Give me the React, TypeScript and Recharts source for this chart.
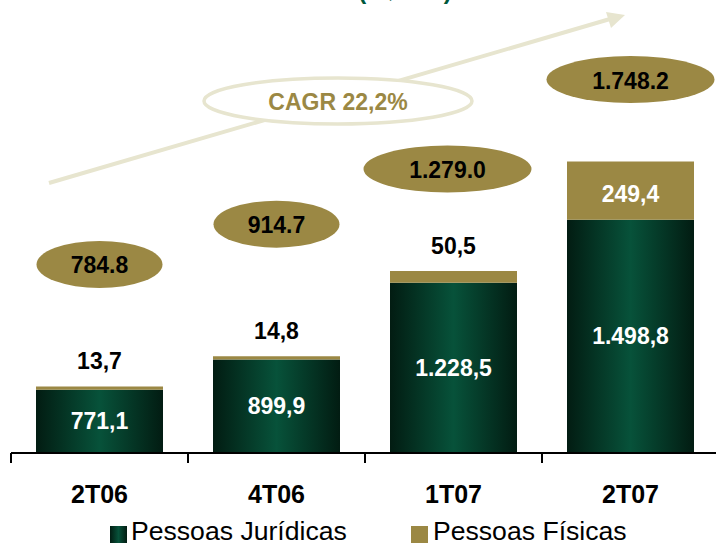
import React from 'react';
import { BarChart, Bar, XAxis, YAxis, LabelList } from 'recharts';

const categories = ['2T06', '4T06', '1T07', '2T07'];
const pessoasJuridicas = [771.1, 899.9, 1228.5, 1498.8];
const pessoasFisicas = [13.7, 14.8, 50.5, 249.4];
const cagrText = 'CAGR 22,2%';

const W = 716;
const H = 544;
const MARGIN = { top: 56, right: -3, bottom: 31, left: 11 };
const XAXIS_H = 60;
const PLOT_BOTTOM = H - MARGIN.bottom - XAXIS_H;
const BAND_HALF = (W - MARGIN.left - MARGIN.right) / categories.length / 2;

const FONT = '"Liberation Sans", Arial, sans-serif';
const OLIVE = '#9b8844';
const BEIGE = '#e7e5cf';

// where the total ovals sit above each stack (hand placed in the original)
const TOTAL_LIFT = [122, 132, 102, 82];
const TOTAL_SHIFT = [0, 0, -6, 0];

const table = categories.map((cat, i) => ({
  cat,
  pj: pessoasJuridicas[i],
  pf: pessoasFisicas[i],
  total: Math.round((pessoasJuridicas[i] + pessoasFisicas[i]) * 10) / 10,
}));

function groupThousands(intPart: string, sep: string) {
  return intPart.replace(/\B(?=(\d{3})+(?!\d))/g, sep);
}

// 1.228,5
function fmtBR(v: number) {
  const [a, b] = v.toFixed(1).split('.');
  return groupThousands(a, '.') + ',' + b;
}

// 1.748.2 (as written in the original ovals)
function fmtTotal(v: number) {
  const [a, b] = v.toFixed(1).split('.');
  return groupThousands(a, '.') + '.' + b;
}

const PjLabel = (props: any) => {
  const { x, y, width, value } = props;
  const cy = (y + PLOT_BOTTOM) / 2;
  return (
    <text x={x + width / 2} y={cy} textAnchor="middle" dominantBaseline="central"
      fill="#fff" fontFamily={FONT} fontWeight="bold" fontSize={23}>
      {fmtBR(value)}
    </text>
  );
};

const PfLabel = (props: any) => {
  const { x, y, width, height, value } = props;
  const inside = value > 100;
  return (
    <text x={x + width / 2} y={inside ? y + height / 2 + 3 : y - 25} textAnchor="middle"
      dominantBaseline="central" fill={inside ? '#fff' : '#000'}
      fontFamily={FONT} fontWeight="bold" fontSize={23}>
      {fmtBR(value)}
    </text>
  );
};

const TotalLabel = (props: any) => {
  const { x, y, width, value, index } = props;
  const txt = fmtTotal(value);
  const cx = x + width / 2 + TOTAL_SHIFT[index];
  const cy = y - TOTAL_LIFT[index];
  const rx = txt.length > 5 ? 84 : 63;
  return (
    <g>
      <ellipse cx={cx} cy={cy} rx={rx} ry={23.5} fill={OLIVE} />
      <text x={cx} y={cy + 1} textAnchor="middle" dominantBaseline="central"
        fill="#000" fontFamily={FONT} fontWeight="bold" fontSize={23}>
        {txt}
      </text>
    </g>
  );
};

const CatTick = (props: any) => {
  const { x, y, payload } = props;
  const bx = x - BAND_HALF;
  return (
    <g>
      <line x1={bx} y1={y} x2={bx} y2={y + 10} stroke="#000" strokeWidth={2} />
      <text x={x} y={y + 50} textAnchor="middle" fill="#000"
        fontFamily={FONT} fontWeight="bold" fontSize={25}>
        {payload.value}
      </text>
    </g>
  );
};

export default function App() {
  return (
    <div style={{ position: 'absolute', left: 0, top: 0, width: W, height: H, background: '#fff', overflow: 'hidden' }}>
      <svg width={0} height={0} style={{ position: 'absolute' }}>
        <defs>
          <linearGradient id="pjGrad" x1="0" y1="0" x2="1" y2="0">
            <stop offset="0%" stopColor="#021c12" />
            <stop offset="50%" stopColor="#07523a" />
            <stop offset="100%" stopColor="#021c12" />
          </linearGradient>
        </defs>
      </svg>

      <BarChart width={W} height={H} data={table} margin={MARGIN} barSize={127}>
        <XAxis dataKey="cat" height={XAXIS_H} tickLine={false} tickSize={0} tickMargin={0}
          axisLine={{ stroke: '#000', strokeWidth: 2 }} tick={<CatTick />} interval={0} />
        <YAxis hide domain={[500, 2200]} allowDataOverflow />
        <Bar dataKey="pj" stackId="a" fill="url(#pjGrad)" isAnimationActive={false}>
          <LabelList dataKey="pj" content={<PjLabel />} />
        </Bar>
        <Bar dataKey="pf" stackId="a" fill={OLIVE} isAnimationActive={false}>
          <LabelList dataKey="pf" content={<PfLabel />} />
          <LabelList dataKey="total" content={<TotalLabel />} />
        </Bar>
      </BarChart>

      {/* title (cut off at top) and CAGR arrow */}
      <svg width={W} height={H} style={{ position: 'absolute', left: 0, top: 0, pointerEvents: 'none' }}>
        <text x={405} y={-1} textAnchor="middle" fill="#00573c" fontFamily={FONT} fontWeight="bold" fontSize={24}>
          (R$ MM)
        </text>
        <line x1={49} y1={183} x2={610} y2={19} stroke={BEIGE} strokeWidth={4} />
        <polygon points="625,15 606,12 611,28" fill={BEIGE} />
        <ellipse cx={338} cy={101} rx={134} ry={23} fill="#fff" stroke={BEIGE} strokeWidth={3.5} />
        <text x={338} y={102} textAnchor="middle" dominantBaseline="central" fill={OLIVE}
          fontFamily={FONT} fontWeight="bold" fontSize={23}>
          {cagrText}
        </text>
      </svg>

      {/* legend */}
      <div style={{ position: 'absolute', left: 110, top: 526, width: 17, height: 17,
        background: 'linear-gradient(to right, #021c12, #07523a 50%, #021c12)' }} />
      <div style={{ position: 'absolute', left: 131, top: 518, fontFamily: FONT, fontSize: 26.6, lineHeight: '26px', color: '#000', whiteSpace: 'nowrap' }}>
        Pessoas Jurídicas
      </div>
      <div style={{ position: 'absolute', left: 411, top: 526, width: 17, height: 17, background: OLIVE }} />
      <div style={{ position: 'absolute', left: 433, top: 518, fontFamily: FONT, fontSize: 26.6, lineHeight: '26px', color: '#000', whiteSpace: 'nowrap' }}>
        Pessoas Físicas
      </div>
    </div>
  );
}
